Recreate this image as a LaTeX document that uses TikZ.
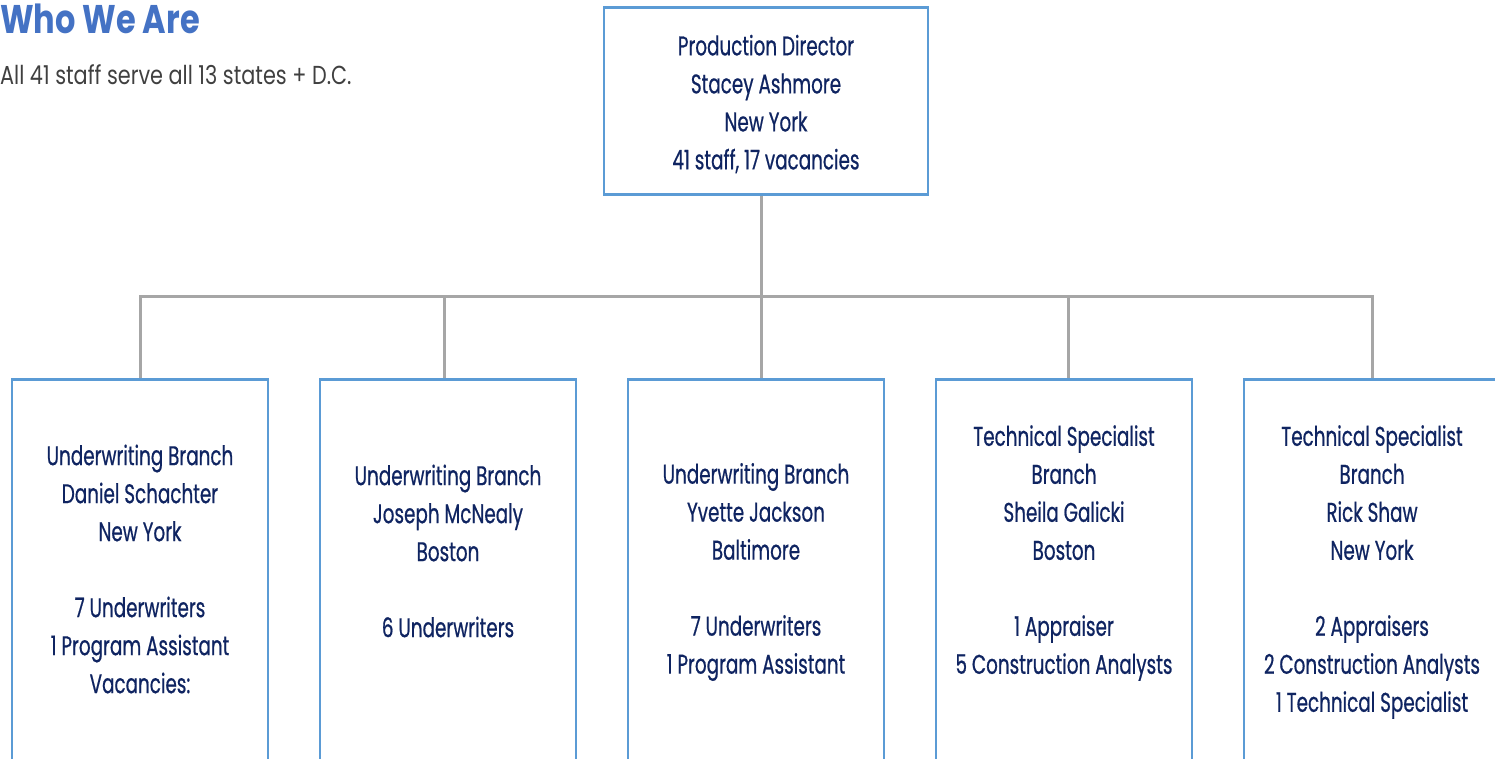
\documentclass[tikz,border=0pt]{standalone}
\usepackage{fontspec}
\setmainfont{Poppins}[FakeStretch=0.68, FakeBold=0.6]
\newfontfamily\headfont{Poppins}[FakeStretch=0.8]
\definecolor{navy}{HTML}{0F2461}
\definecolor{boxblue}{HTML}{5B9BD5}
\definecolor{titleblue}{HTML}{4472C4}
\definecolor{linegray}{HTML}{A6A6A6}
\definecolor{subgray}{HTML}{404040}
\begin{document}
\begin{tikzpicture}[
    x=1pt, y=-1pt,
    branch/.style={rectangle, draw=boxblue, line width=2.5pt, fill=white, anchor=north, minimum width=256pt, minimum height=420pt},
    txt/.style={align=center, text=navy, inner sep=0pt, font=\fontsize{27}{38}\selectfont},
    link/.style={draw=linegray, line width=3pt}
]
    \useasboundingbox (0,0) rectangle (1495,758);

    % Heading
    \node[anchor=base west, inner sep=0pt, text=titleblue, font=\headfont\fontsize{40}{42}\selectfont\bfseries] (title) at (0,33) {Who We Are};
    \node[anchor=base west, inner sep=0pt, text=subgray, font=\headfont\fontsize{26}{30}\selectfont] (sub) at (0,84) {All 41 staff serve all 13 states + D.C.};

    % Director
    \node[rectangle, draw=boxblue, line width=2.5pt, minimum width=324pt, minimum height=187pt] (top) at (766,101) {};
    \node[txt] (ltop) at ([yshift=-3pt]top.center) {Production Director\\Stacey Ashmore\\New York\\41 staff, 17 vacancies};

    % Branches
    \foreach \i/\x in {1/140, 2/448, 3/756, 4/1064, 5/1372} {
        \node[branch] (b\i) at (\x,378) {};
    }
    \foreach \i/\dx in {1/0, 2/-4, 3/5, 4/4, 5/0} {
        \draw[link] ([xshift=-5pt]top.south) -- ++(0,101) -| ([xshift=\dx pt]b\i.north);
    }

    \node[txt] (l1) at ([yshift=-191pt]b1.north) {Underwriting Branch\\Daniel Schachter\\New York\\[38pt]7 Underwriters\\1 Program Assistant\\Vacancies:};
    \node[txt] (l2) at ([yshift=-173pt]b2.north) {Underwriting Branch\\Joseph McNealy\\Boston\\[38pt]6 Underwriters};
    \node[txt] (l3) at ([yshift=-194pt]b3.north) {Underwriting Branch\\Yvette Jackson\\Baltimore\\[38pt]7 Underwriters\\1 Program Assistant};
    \node[txt] (l4) at ([yshift=-175pt]b4.north) {Technical Specialist\\Branch\\Sheila Galicki\\Boston\\[38pt]1 Appraiser\\5 Construction Analysts};
    \node[txt] (l5) at ([yshift=-194pt]b5.north) {Technical Specialist\\Branch\\Rick Shaw\\New York\\[38pt]2 Appraisers\\2 Construction Analysts\\1 Technical Specialist};
\end{tikzpicture}
\end{document}
